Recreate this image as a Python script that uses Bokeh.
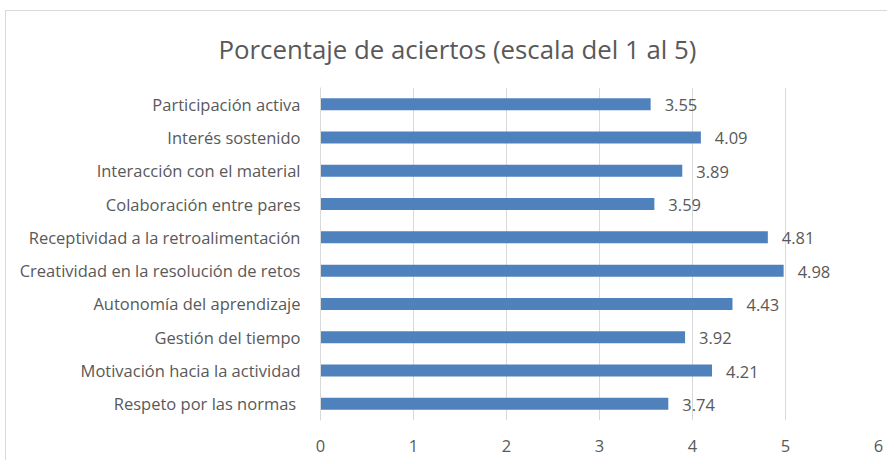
from bokeh.plotting import figure
from bokeh.models import ColumnDataSource, FactorRange, Range1d, FixedTicker
from bokeh.core.properties import value
from bokeh.embed import file_html
from bokeh.resources import INLINE

categories = [
    "Participación activa",
    "Interés sostenido",
    "Interacción con el material",
    "Colaboración entre pares",
    "Receptividad a la retroalimentación",
    "Creatividad en la resolución de retos",
    "Autonomía del aprendizaje",
    "Gestión del tiempo",
    "Motivación hacia la actividad",
    "Respeto por las normas ",
]
values = [3.55, 4.09, 3.89, 3.59, 4.81, 4.98, 4.43, 3.92, 4.21, 3.74]
x_ticks = [0, 1, 2, 3, 4, 5, 6]
title_text = "Porcentaje de aciertos (escala del 1 al 5)"

FONT = "Open Sans"
TEXT = "#595959"
GRID = "#D9D9D9"
BAR = "#4F81BD"
FS = "16.5px"

src = ColumnDataSource(dict(cat=categories, val=values,
                            lab=[f"{v:.2f}" for v in values]))

p = figure(width=882, height=450, output_backend="svg", toolbar_location=None,
           y_range=FactorRange(*reversed(categories), range_padding=0),
           x_range=Range1d(0, 6),
           min_border_left=314, min_border_right=10,
           min_border_top=76, min_border_bottom=41)
p.outline_line_color = None
p.hbar(y="cat", right="val", height=0.36, source=src, color=BAR, line_color=None)
p.text(x="val", y="cat", text="lab", source=src, x_offset=14, y_offset=1,
       text_baseline="middle", text_align="left", text_font=value(FONT),
       text_font_size=FS, text_color=TEXT)

p.xaxis.ticker = FixedTicker(ticks=x_ticks)
p.xaxis.axis_line_color = None
p.xaxis.major_tick_line_color = None
p.xaxis.minor_tick_line_color = None
p.xaxis.major_label_standoff = 13
p.xaxis.major_label_text_font = FONT
p.xaxis.major_label_text_font_size = FS
p.xaxis.major_label_text_color = TEXT

p.yaxis.axis_line_color = GRID
p.yaxis.major_tick_line_color = None
p.yaxis.minor_tick_line_color = None
p.yaxis.major_label_standoff = 14
p.yaxis.major_label_text_font = FONT
p.yaxis.major_label_text_font_size = FS
p.yaxis.major_label_text_color = TEXT

p.xgrid.grid_line_color = GRID
p.ygrid.grid_line_color = None

p.title.text = title_text
p.title.align = "left"
p.title.vertical_align = "top"
p.title.offset = -102
p.title.standoff = 38
p.title.text_font = FONT
p.title.text_font_style = "normal"
p.title.text_font_size = "25.8px"
p.title.text_color = TEXT

p.styles = {"margin-left": "5px", "margin-top": "10px",
            "border-left": "1px solid #D9D9D9", "border-top": "1px solid #D9D9D9"}

open("out.html", "w").write(file_html(p, INLINE))
